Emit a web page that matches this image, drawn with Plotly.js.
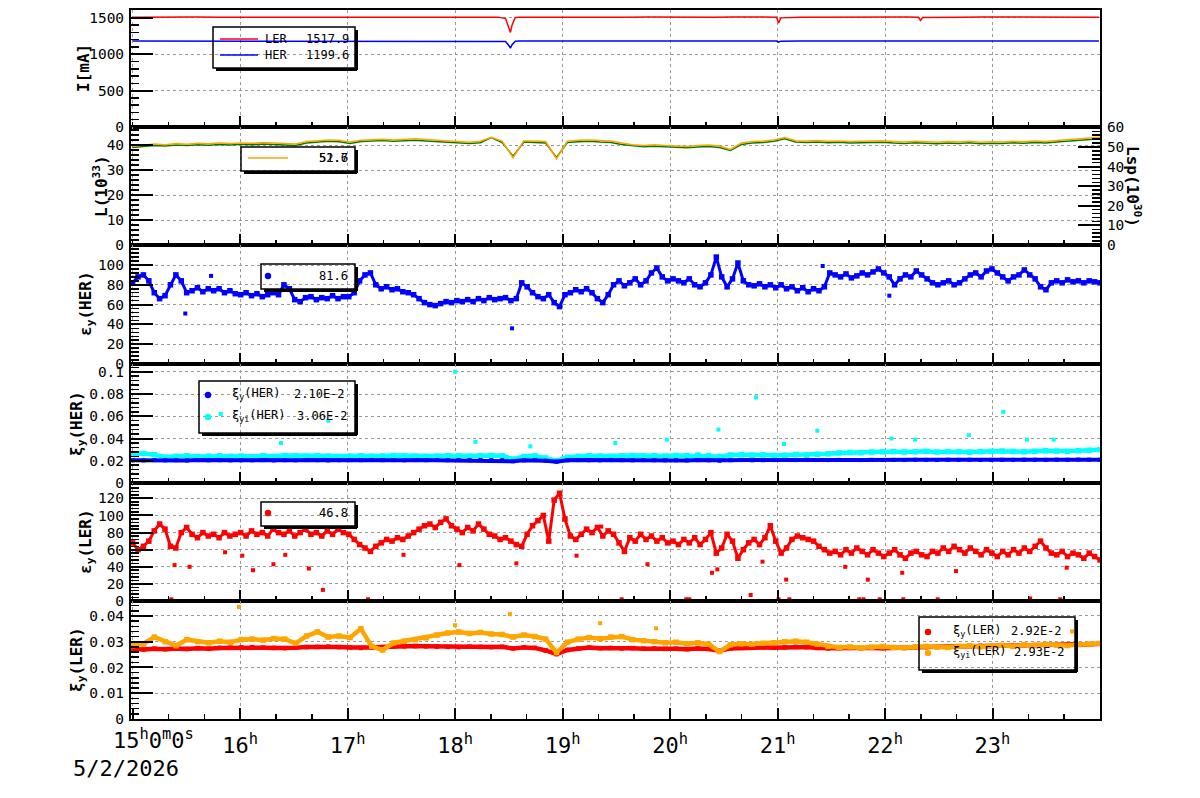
<!DOCTYPE html>
<html><head><meta charset="utf-8">
<script src="https://cdn.plot.ly/plotly-3.0.1.min.js"></script>
<style>body{margin:0;background:#fff}#chart{width:1200px;height:798px}</style>
</head><body><div id="chart"></div>
<script>
// ---------------- DATA ----------------
const hourTicks = [15,16,17,18,19,20,21,22,23];
const hourLabels = ['', '16<sup>h</sup>', '17<sup>h</sup>', '18<sup>h</sup>', '19<sup>h</sup>', '20<sup>h</sup>', '21<sup>h</sup>', '22<sup>h</sup>', '23<sup>h</sup>'];

// Panel 1: beam currents [mA]
const curT = [15.0,15.2,15.4,15.6,15.8,16.0,16.2,16.4,16.6,16.8,17.0,17.2,17.4,17.6,17.8,18.0,18.2,18.4,
  18.47,18.5,18.515,18.53,18.56,
  18.6,18.8,19.0,19.2,19.4,19.6,19.8,20.0,20.2,20.4,20.6,20.8,
  20.99,21.01,21.03,
  21.2,21.4,21.6,21.8,22.0,22.2,
  22.31,22.33,22.35,
  22.5,22.7,22.9,23.1,23.3,23.5,23.7,23.9,23.99];
const lerI = [1508,1511,1507,1512,1509,1510,1506,1511,1508,1512,1509,1507,1511,1510,1508,1512,1509,1510,
  1490,1380,1300,1400,1505,
  1510,1508,1511,1507,1510,1509,1512,1508,1510,1507,1511,1509,
  1510,1430,1500,
  1509,1511,1507,1510,1508,1511,
  1509,1465,1505,
  1510,1508,1511,1509,1507,1511,1510,1508,1510];
const herI = [1182,1182,1181,1182,1183,1182,1182,1181,1182,1182,1183,1182,1182,1181,1182,1182,1182,1182,
  1175,1120,1085,1130,1180,
  1182,1182,1181,1182,1182,1183,1182,1182,1181,1182,1182,1182,
  1182,1165,1180,
  1182,1182,1181,1182,1182,1182,
  1182,1172,1182,
  1182,1181,1182,1182,1183,1182,1182,1181,1182];

// Panel 2: luminosity L (1e33, left) and Lsp (1e30, right), 6-min samples
const lumL = [39.0,39.4,39.8,39.6,40.0,39.8,40.1,39.9,40.2,40.0,
  40.3,40.1,40.4,40.2,39.9,39.8,40.8,41.2,41.5,41.3,
  40.6,41.4,41.6,41.8,41.5,41.7,41.9,41.6,41.3,41.0,
  40.8,40.6,40.9,43.0,41.0,35.5,41.2,41.0,40.8,35.0,
  41.0,41.3,41.5,41.2,41.0,40.2,39.6,39.3,39.5,39.2,
  39.0,38.9,39.2,39.4,39.0,37.8,40.2,40.8,41.0,41.5,
  42.5,41.2,41.0,41.2,40.9,41.1,40.8,41.0,40.9,41.1,
  40.8,40.6,40.9,40.7,40.5,40.8,40.6,40.9,40.5,40.7,
  40.6,40.9,40.7,41.0,40.8,41.2,41.6,42.0,42.3,42.5];
const lumSp = [50.4,50.8,51.5,51.2,51.8,51.4,51.9,51.6,52.0,51.8,
  52.1,51.9,52.3,52.0,51.6,51.5,52.8,53.2,53.6,53.4,
  52.5,53.5,53.8,54.0,53.6,53.9,54.2,53.8,53.4,53.0,
  52.8,52.4,52.9,55.0,53.0,44.5,53.2,53.0,52.8,44.0,
  53.0,53.4,53.6,53.3,53.0,52.0,51.2,50.8,51.1,50.7,
  50.4,50.3,50.7,51.0,50.5,48.8,52.0,52.8,53.0,53.6,
  54.8,53.2,53.0,53.3,52.9,53.1,52.8,53.0,52.9,53.2,
  52.8,52.5,52.9,52.6,52.4,52.8,52.5,52.9,52.4,52.7,
  52.5,52.9,52.7,53.0,52.8,53.3,53.8,54.2,54.6,55.0];

// Panel 3: eps_y(HER), 3-min samples
const epsHER = [82,88,90,84,72,66,69,80,90,84,72,74,77,73,76,74,76,72,74,71,
  70,72,69,71,68,70,72,70,80,76,65,63,67,68,65,67,66,69,66,68,
  68,72,84,90,92,80,76,78,75,76,73,72,70,66,62,60,59,61,63,62,
  64,63,65,63,66,64,67,65,66,67,64,66,82,78,72,68,66,70,62,58,
  70,72,75,73,76,72,66,62,70,80,84,79,82,86,80,84,92,97,88,84,
  86,84,82,86,80,78,82,90,108,88,78,86,102,84,80,79,81,78,80,77,
  80,76,78,74,77,73,76,74,78,92,90,88,91,87,89,92,90,93,96,92,
  88,80,86,90,88,94,90,86,82,80,82,84,80,82,86,90,92,88,94,96,
  92,88,84,88,90,95,90,86,78,75,82,84,82,85,83,84,82,84,83,82];
const epsHERoutT = [15.49,15.73,18.53,21.42,22.04];
const epsHERoutV = [51,89,36,99,69];

// Panel 4: xi_y(HER) and xi_yi(HER), 6-min samples
const xiHER = [0.0205,0.0203,0.0206,0.0204,0.0205,0.0203,0.0206,0.0204,0.0205,0.0203,
  0.0205,0.0204,0.0206,0.0203,0.0205,0.0204,0.0206,0.0205,0.0203,0.0205,
  0.0206,0.0205,0.0207,0.0205,0.0206,0.0204,0.0206,0.0205,0.0207,0.0205,
  0.0206,0.0205,0.0207,0.0206,0.0205,0.0195,0.0204,0.0206,0.0200,0.0192,
  0.0204,0.0206,0.0205,0.0204,0.0206,0.0205,0.0204,0.0206,0.0205,0.0204,
  0.0205,0.0203,0.0206,0.0204,0.0200,0.0205,0.0206,0.0204,0.0205,0.0206,
  0.0207,0.0206,0.0208,0.0207,0.0206,0.0208,0.0207,0.0206,0.0208,0.0207,
  0.0208,0.0207,0.0209,0.0208,0.0207,0.0209,0.0208,0.0209,0.0207,0.0208,
  0.0209,0.0208,0.0210,0.0209,0.0208,0.0210,0.0209,0.0211,0.0210,0.0210];
const xiiHER = [0.0258,0.0265,0.0255,0.0232,0.0240,0.0245,0.0238,0.0242,0.0245,0.0240,
  0.0242,0.0238,0.0245,0.0240,0.0247,0.0243,0.0240,0.0245,0.0242,0.0238,
  0.0242,0.0245,0.0240,0.0243,0.0247,0.0244,0.0240,0.0238,0.0242,0.0245,
  0.0243,0.0240,0.0245,0.0248,0.0244,0.0215,0.0238,0.0245,0.0225,0.0200,
  0.0232,0.0240,0.0245,0.0242,0.0238,0.0244,0.0247,0.0243,0.0246,0.0242,
  0.0248,0.0245,0.0250,0.0247,0.0238,0.0252,0.0255,0.0250,0.0253,0.0248,
  0.0250,0.0255,0.0252,0.0258,0.0262,0.0270,0.0275,0.0272,0.0278,0.0280,
  0.0282,0.0278,0.0280,0.0285,0.0278,0.0282,0.0280,0.0276,0.0282,0.0285,
  0.0288,0.0284,0.0280,0.0286,0.0290,0.0287,0.0284,0.0290,0.0295,0.0300];
const xiiHERoutT = [18.0,20.8,23.1,15.82,16.82,20.45,21.37,22.78,23.32,16.38,18.19,18.7,19.49,19.97,22.06,22.28,23.57,21.06];
const xiiHERoutV = [0.100,0.077,0.064,0.062,0.056,0.048,0.047,0.043,0.039,0.036,0.037,0.033,0.036,0.039,0.040,0.039,0.039,0.035];

// Panel 5: eps_y(LER), 3-min samples
const epsLER = [68,60,64,70,82,90,84,64,62,80,86,78,74,80,76,78,74,80,76,78,
  80,76,82,78,80,76,84,80,78,82,76,80,84,78,80,76,82,78,84,80,
  78,72,66,62,58,64,68,72,70,74,72,76,80,84,88,90,86,92,96,88,
  84,80,86,82,90,84,78,76,72,74,70,66,64,78,88,94,100,70,118,126,
  96,76,72,78,84,80,86,76,82,78,68,58,74,70,78,72,76,70,74,68,
  70,66,72,68,74,66,72,80,56,62,78,70,50,60,68,72,66,74,88,70,
  56,62,72,76,74,72,70,64,60,56,58,54,60,56,62,58,54,60,56,52,
  56,60,54,50,56,58,54,52,58,56,62,58,64,60,56,62,58,54,60,56,
  52,58,54,60,56,62,58,64,70,62,56,54,58,52,56,54,50,56,52,48];
const epsLERoutT = [15.36,15.39,15.53,15.86,16.02,16.12,16.31,16.42,16.64,16.77,17.19,17.52,18.04,18.57,19.13,19.36,19.55,19.79,20.15,20.18,20.39,20.44,20.75,20.86,21.01,21.08,21.11,21.63,21.76,21.80,21.84,21.95,22.16,22.17,22.49,22.66,23.35,23.63,23.69];
const epsLERoutV = [2,42,40,57,53,36,43,54,38,13,2,54,42,44,53,87,2,43,2,2,33,37,7,46,2,25,2,40,2,2,25,2,33,2,2,35,3,2,39];

// Panel 6: xi_y(LER) and xi_yi(LER), 6-min samples
const xiLER = [0.0272,0.0270,0.0273,0.0271,0.0274,0.0272,0.0275,0.0273,0.0276,0.0277,
  0.0278,0.0279,0.0277,0.0276,0.0275,0.0277,0.0279,0.0280,0.0281,0.0279,
  0.0278,0.0276,0.0278,0.0279,0.0281,0.0282,0.0283,0.0282,0.0281,0.0280,
  0.0279,0.0281,0.0280,0.0279,0.0280,0.0274,0.0278,0.0276,0.0266,0.0252,
  0.0268,0.0274,0.0277,0.0275,0.0276,0.0274,0.0275,0.0273,0.0274,0.0272,
  0.0273,0.0271,0.0274,0.0272,0.0265,0.0274,0.0276,0.0277,0.0278,0.0277,
  0.0278,0.0280,0.0279,0.0276,0.0274,0.0275,0.0276,0.0274,0.0276,0.0275,
  0.0277,0.0276,0.0278,0.0279,0.0280,0.0281,0.0282,0.0283,0.0284,0.0283,
  0.0285,0.0284,0.0286,0.0287,0.0288,0.0287,0.0289,0.0290,0.0289,0.0292];
const xiiLER = [0.0285,0.0292,0.0318,0.0300,0.0285,0.0308,0.0300,0.0296,0.0302,0.0298,
  0.0308,0.0310,0.0306,0.0312,0.0310,0.0294,0.0322,0.0338,0.0318,0.0322,
  0.0316,0.0350,0.0282,0.0268,0.0295,0.0302,0.0308,0.0315,0.0326,0.0334,
  0.0338,0.0332,0.0336,0.0330,0.0328,0.0318,0.0326,0.0320,0.0310,0.0258,
  0.0298,0.0310,0.0316,0.0312,0.0318,0.0320,0.0308,0.0304,0.0300,0.0296,
  0.0298,0.0292,0.0296,0.0290,0.0262,0.0288,0.0292,0.0290,0.0294,0.0296,
  0.0300,0.0302,0.0298,0.0290,0.0282,0.0278,0.0280,0.0276,0.0279,0.0281,
  0.0278,0.0276,0.0280,0.0282,0.0279,0.0278,0.0282,0.0284,0.0280,0.0283,
  0.0286,0.0282,0.0288,0.0285,0.0290,0.0287,0.0285,0.0289,0.0291,0.0293];
const xiiLERoutT = [15.99,18.51,19.35,18.0,19.87,23.74];
const xiiLERoutV = [0.0435,0.0407,0.0372,0.0364,0.0352,0.0340];

// time grids (sample index -> hour of day)
const t3 = epsHER.map((_, i) => 15 + i * 9 / (epsHER.length - 1));
const t6 = xiHER.map((_, i) => 15 + i * 9 / (xiHER.length - 1));

// ---------------- LAYOUT ----------------
const FONT = 'DejaVu Sans Mono';
const L = 131, R = 1100, T = 10, B = 719;
const px = v => (v - L) / (R - L);
const py = v => (B - v) / (B - T);
const dom = (top, bot) => [py(bot), py(top)];

function yax(domain, range, vals, texts, minorD, extra) {
  return Object.assign({
    domain, range, tickmode: 'array', tickvals: vals, ticktext: texts,
    showline: true, linecolor: 'black', linewidth: 2, mirror: true,
    ticks: 'inside', ticklen: 22, tickwidth: 2, tickcolor: 'black',
    showgrid: true, gridcolor: '#9a9a9a', griddash: 'dot', gridwidth: 1,
    zeroline: false, fixedrange: true, ticklabelstandoff: 2,
    tickfont: {family: FONT, size: 14.5, color: 'black'},
    minor: {dtick: minorD, ticks: 'inside', ticklen: 8, tickwidth: 1.5, tickcolor: 'black', showgrid: false}
  }, extra || {});
}
function xax(anchor, labels) {
  return {
    anchor, range: [14.985, 24.0], tickmode: 'array', tickvals: hourTicks, ticktext: hourLabels,
    showticklabels: labels, showline: true, linecolor: 'black', linewidth: 2, mirror: true,
    ticks: 'inside', ticklen: 11, tickwidth: 2, tickcolor: 'black',
    showgrid: true, gridcolor: '#9a9a9a', griddash: 'dot', gridwidth: 1,
    zeroline: false, fixedrange: true, ticklabelstandoff: 6,
    tickfont: {family: FONT, size: 22, color: 'black'},
    minor: {tickmode: 'linear', tick0: 15, dtick: 1/3, ticks: 'inside', ticklen: 5, tickwidth: 1.5, tickcolor: 'black', showgrid: false}
  };
}
const rng = a => a.map(String);

const layout = {
  width: 1200, height: 798, margin: {l: L, r: 1200 - R, t: T, b: 798 - B},
  paper_bgcolor: 'white', plot_bgcolor: 'white', showlegend: false,
  font: {family: FONT, color: 'black'},
  xaxis:  xax('y', false),
  xaxis2: Object.assign(xax('y2', false), {matches: 'x'}),
  xaxis3: Object.assign(xax('y3', false), {matches: 'x'}),
  xaxis4: Object.assign(xax('y4', false), {matches: 'x'}),
  xaxis5: Object.assign(xax('y5', false), {matches: 'x'}),
  xaxis6: Object.assign(xax('y6', true), {matches: 'x'}),
  yaxis:  yax(dom(10,127), [0,1608], [0,500,1000,1500], rng([0,500,1000,1500]), 100),
  yaxis2: yax(dom(127,245), [0,47.2], [0,10,20,30,40], rng([0,10,20,30,40]), 2),
  yaxis3: yax(dom(245,364), [0,120.2], [0,20,40,60,80,100], rng([0,20,40,60,80,100]), 4),
  yaxis4: yax(dom(364,483), [0,0.107], [0,0.02,0.04,0.06,0.08,0.1], ['0','0.02','0.04','0.06','0.08','0.1'], 0.004),
  yaxis5: yax(dom(483,601), [0,138], [0,20,40,60,80,100,120], rng([0,20,40,60,80,100,120]), 4),
  yaxis6: yax(dom(601,719), [0,0.0458], [0,0.01,0.02,0.03,0.04], ['0','0.01','0.02','0.03','0.04'], 0.002),
  yaxis7: yax(dom(127,245), [0,60.2], [0,10,20,30,40,50,60], rng([0,10,20,30,40,50,60]), 2,
          {overlaying: 'y2', side: 'right', anchor: 'x2', showgrid: false, mirror: false}),
  shapes: [], annotations: []
};

// axis titles
function title(text, cx, cy, angle) {
  layout.annotations.push({text, xref: 'paper', yref: 'paper', x: px(cx), y: py(cy),
    xanchor: 'center', yanchor: 'middle', textangle: angle, showarrow: false,
    font: {family: FONT, size: 16, color: 'black', weight: 'bold'}});
}
title('I[mA]', 84, 68, -90);
title('L(10<sup>33</sup>)', 101, 186, -90);
title('ε<sub>y</sub>(HER)', 86, 304, -90);
title('ξ<sub>y</sub>(HER)', 77, 424, -90);
title('ε<sub>y</sub>(LER)', 86, 542, -90);
title('ξ<sub>y</sub>(LER)', 77, 660, -90);
title('Lsp(10<sup>30</sup>)', 1133, 186, 90);

// first time label and date
layout.annotations.push({text: '15<sup>h</sup>0<sup>m</sup>0<sup>s</sup>', xref: 'paper', yref: 'paper',
  x: px(111), y: py(739), xanchor: 'left', yanchor: 'middle', showarrow: false,
  font: {family: FONT, size: 22, color: 'black'}});
layout.annotations.push({text: '5/2/2026', xref: 'paper', yref: 'paper',
  x: px(71), y: py(768), xanchor: 'left', yanchor: 'middle', showarrow: false,
  font: {family: FONT, size: 22, color: 'black'}});

// legend boxes (ROOT style with shadow)
function box(x0, y0, x1, y1) {
  layout.shapes.push({type: 'rect', xref: 'paper', yref: 'paper', x0: px(x0), x1: px(x1), y0: py(y1), y1: py(y0),
    line: {color: 'black', width: 1.5}, fillcolor: 'rgba(0,0,0,0)', layer: 'above'});
  layout.shapes.push({type: 'line', xref: 'paper', yref: 'paper', x0: px(x0 + 3), x1: px(x1 + 2), y0: py(y1 + 1.5), y1: py(y1 + 1.5),
    line: {color: 'black', width: 3}, layer: 'above'});
  layout.shapes.push({type: 'line', xref: 'paper', yref: 'paper', x0: px(x1 + 1.5), x1: px(x1 + 1.5), y0: py(y0 + 3), y1: py(y1 + 2),
    line: {color: 'black', width: 3}, layer: 'above'});
}
function lsym(x0, x1, y, color) {
  layout.shapes.push({type: 'line', xref: 'paper', yref: 'paper', x0: px(x0), x1: px(x1), y0: py(y), y1: py(y),
    line: {color, width: 1.5}, layer: 'above'});
}
function dsym(cx, cy, color) {
  const r = 3.2;
  layout.shapes.push({type: 'circle', xref: 'paper', yref: 'paper', x0: px(cx - r), x1: px(cx + r), y0: py(cy + r), y1: py(cy - r),
    line: {color, width: 0}, fillcolor: color, layer: 'above'});
}
function ltxt(text, x, y, anchor) {
  layout.annotations.push({text, xref: 'paper', yref: 'paper', x: px(x), y: py(y), xanchor: anchor, yanchor: 'middle',
    showarrow: false, font: {family: FONT, size: 12, color: 'black'}});
}
box(213, 27, 355, 68); lsym(220, 258, 39, '#ff0000'); lsym(220, 258, 55, '#0000ff');
ltxt('LER', 263, 39, 'left'); ltxt('1517.9', 351, 39, 'right');
ltxt('HER', 263, 55, 'left'); ltxt('1199.6', 351, 55, 'right');
box(241, 147, 355, 171); lsym(248, 288, 158, '#ffa500');
ltxt('51.6', 350, 158, 'right'); ltxt('52.7', 350, 158, 'right');
box(261, 264, 355, 289); dsym(268, 276, '#0000ff'); ltxt('81.6', 350, 276, 'right');
box(199, 381, 355, 433); dsym(208, 395, '#0000ff'); dsym(208, 417, '#00ffff');
ltxt('ξ<sub>y</sub>(HER)', 230, 394, 'left'); ltxt('2.10E-2', 347, 394, 'right');
ltxt('ξ<sub>yi</sub>(HER)', 230, 416, 'left'); ltxt('3.06E-2', 350, 416, 'right');
box(261, 502, 355, 526); dsym(268, 513, '#ff0000'); ltxt('46.8', 350, 513, 'right');
box(919, 617, 1075, 670); dsym(928, 632, '#ff0000'); dsym(928, 653, '#ffa500');
ltxt('ξ<sub>y</sub>(LER)', 951, 631, 'left'); ltxt('2.92E-2', 1064, 631, 'right');
ltxt('ξ<sub>yi</sub>(LER)', 951, 652, 'left'); ltxt('2.93E-2', 1067, 652, 'right');

// ---------------- TRACES ----------------
const sq = (color, size) => ({symbol: 'square', size, color, line: {width: 0}});
const traces = [
  {x: curT, y: lerI, xaxis: 'x', yaxis: 'y', mode: 'lines', line: {color: '#ff0000', width: 1.5}, name: 'LER'},
  {x: curT, y: herI, xaxis: 'x', yaxis: 'y', mode: 'lines', line: {color: '#0000ff', width: 1.5}, name: 'HER'},
  {x: t6, y: lumL, xaxis: 'x2', yaxis: 'y2', mode: 'lines', line: {color: '#007a00', width: 1.5}, name: 'L'},
  {x: t6, y: lumSp, xaxis: 'x2', yaxis: 'y7', mode: 'lines', line: {color: '#ffa500', width: 1.5}, name: 'Lsp'},
  {x: t3, y: epsHER, xaxis: 'x3', yaxis: 'y3', mode: 'lines+markers', line: {color: '#0000ff', width: 3}, marker: sq('#0000ff', 5.5), name: 'epsHER'},
  {x: epsHERoutT, y: epsHERoutV, xaxis: 'x3', yaxis: 'y3', mode: 'markers', marker: sq('#0000ff', 4)},
  {x: t6, y: xiiHER, xaxis: 'x4', yaxis: 'y4', mode: 'lines+markers', line: {color: '#00ffff', width: 4.5}, marker: sq('#00ffff', 5.5), name: 'xiiHER'},
  {x: xiiHERoutT, y: xiiHERoutV, xaxis: 'x4', yaxis: 'y4', mode: 'markers', marker: sq('#00ffff', 4)},
  {x: t6, y: xiHER, xaxis: 'x4', yaxis: 'y4', mode: 'lines+markers', line: {color: '#0000ff', width: 4}, marker: sq('#0000ff', 4), name: 'xiHER'},
  {x: t3, y: epsLER, xaxis: 'x5', yaxis: 'y5', mode: 'lines+markers', line: {color: '#ff0000', width: 3}, marker: sq('#ff0000', 5.5), name: 'epsLER'},
  {x: epsLERoutT, y: epsLERoutV, xaxis: 'x5', yaxis: 'y5', mode: 'markers', marker: sq('#ff0000', 4)},
  {x: t6, y: xiLER, xaxis: 'x6', yaxis: 'y6', mode: 'lines+markers', line: {color: '#ff0000', width: 4.5}, marker: sq('#ff0000', 4.5), name: 'xiLER'},
  {x: t6, y: xiiLER, xaxis: 'x6', yaxis: 'y6', mode: 'lines+markers', line: {color: '#ffa500', width: 4.5}, marker: sq('#ffa500', 5.5), name: 'xiiLER'},
  {x: xiiLERoutT, y: xiiLERoutV, xaxis: 'x6', yaxis: 'y6', mode: 'markers', marker: sq('#ffa500', 4)}
];
traces.forEach(t => { t.hoverinfo = 'skip'; t.cliponaxis = true; });

Plotly.newPlot('chart', traces, layout, {staticPlot: true, displayModeBar: false});
</script></body></html>
